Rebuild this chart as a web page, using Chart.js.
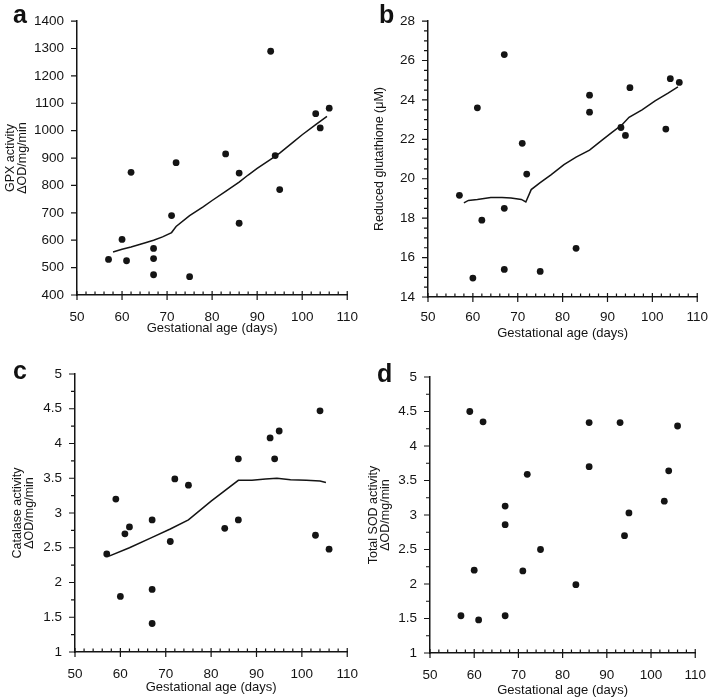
<!DOCTYPE html>
<html lang="en">
<head>
  <meta charset="UTF-8">
  <title>Antioxidant activity vs gestational age</title>
  <script src="https://cdn.jsdelivr.net/npm/chart.js"></script>
  <style>
    body, html {
      margin: 0;
      padding: 0;
      background: #fff;
      width: 720px;
      height: 700px;
      overflow: hidden;
    }
    .panel {
      position: absolute;
    }
    .letter {
      position: absolute;
      font-family: "Liberation Sans", Arial, sans-serif;
      font-weight: bold;
      font-size: 25px;
      line-height: 25px;
      color: #111;
    }
  </style>
</head>
<body>
  <div class="panel" style="left:0;top:0"><canvas id="chartA" width="372" height="345"></canvas></div>
  <div class="panel" style="left:360px;top:0"><canvas id="chartB" width="360" height="345"></canvas></div>
  <div class="panel" style="left:0;top:340px"><canvas id="chartC" width="372" height="360"></canvas></div>
  <div class="panel" style="left:360px;top:340px"><canvas id="chartD" width="360" height="360"></canvas></div>
  <div class="letter" style="left:13px;top:2px">a</div>
  <div class="letter" style="left:379px;top:2px">b</div>
  <div class="letter" style="left:13px;top:358px">c</div>
  <div class="letter" style="left:377px;top:361px">d</div>

  <script>
    // x axis (gestational age, days)
    const xTicks = [50, 60, 70, 80, 90, 100, 110];

    // a: GPX activity
    const ageA = [57, 60, 61, 62, 67, 67, 67, 71, 72, 75, 83, 86, 86, 93, 94, 95, 103, 104, 106];
    const gpx = [530, 603, 525, 848, 570, 533, 474, 690, 883, 467, 915, 845, 662, 1290, 909, 785, 1062, 1010, 1082];
    const gpxFitAge = [58, 60, 62, 65, 67, 69, 71, 72, 75, 78, 80, 83, 86, 88, 90, 93, 95, 98, 100, 103, 105.5];
    const gpxFit = [557, 567, 575, 590, 600, 612, 628, 650, 690, 722, 745, 778, 812, 838, 862, 895, 918, 958, 985, 1022, 1052];
    const yTicksA = [400, 500, 600, 700, 800, 900, 1000, 1100, 1200, 1300, 1400];

    // b: reduced glutathione
    const ageB = [57, 60, 61, 62, 67, 67, 67, 71, 72, 75, 83, 86, 86, 93, 94, 95, 103, 104, 106];
    const gsh = [19.16, 14.96, 23.6, 17.9, 26.3, 18.5, 15.4, 21.8, 20.24, 15.3, 16.47, 24.24, 23.38, 22.6, 22.2, 24.62, 22.52, 25.08, 24.89];
    const gshFitAge = [58, 59, 61, 64, 66.5, 68.5, 70.8, 71.8, 73, 75, 77.4, 80.3, 83, 86, 89, 91, 93.3, 94.8, 97.7, 100.6, 103.5, 105.7];
    const gshFit = [18.78, 18.9, 18.95, 19.05, 19.05, 19.02, 18.95, 18.82, 19.45, 19.8, 20.2, 20.72, 21.1, 21.45, 22.0, 22.35, 22.75, 23.12, 23.5, 23.95, 24.34, 24.66];
    const yTicksB = [14, 16, 18, 20, 22, 24, 26, 28];

    // c: catalase activity
    const ageC = [57, 59, 60, 61, 62, 67, 67, 67, 71, 72, 75, 83, 86, 86, 93, 94, 95, 103, 104, 106];
    const catalase = [2.41, 3.2, 1.8, 2.7, 2.8, 2.9, 1.9, 1.41, 2.59, 3.49, 3.4, 2.78, 3.78, 2.9, 4.08, 3.78, 4.18, 2.68, 4.47, 2.48];
    const catFitAge = [57.5, 62, 67, 71, 75, 80, 86, 89, 92, 94.5, 97.5, 101, 104, 105.3];
    const catFit = [2.38, 2.5, 2.65, 2.77, 2.9, 3.17, 3.47, 3.47, 3.49, 3.5, 3.48, 3.47, 3.46, 3.44];
    const yTicksCD = [1, 1.5, 2, 2.5, 3, 3.5, 4, 4.5, 5];

    // d: total SOD activity
    const ageD = [57, 59, 60, 61, 62, 67, 67, 67, 71, 72, 75, 83, 86, 86, 93, 94, 95, 103, 104, 106];
    const sod = [1.54, 4.5, 2.2, 1.48, 4.35, 3.13, 2.86, 1.54, 2.19, 3.59, 2.5, 1.99, 4.34, 3.7, 4.34, 2.7, 3.03, 3.2, 3.64, 4.29];

    const FONT = '"Liberation Sans", Arial, sans-serif';
    const INK = '#141414';

    const pairs = (xs, ys) => xs.map((x, i) => ({x: x, y: ys[i]}));

    // draws major + minor tick marks along both axes
    const tickMarks = {
      id: 'tickMarks',
      afterDraw(chart, args, opts) {
        const {ctx, scales: {x, y}} = chart;
        ctx.save();
        ctx.strokeStyle = INK;
        ctx.lineWidth = 1.2;
        ctx.beginPath();
        for (let v = x.min; v <= x.max + 1e-6; v += opts.xMinor) {
          const px = x.getPixelForValue(v);
          const major = Math.abs((v - x.min) % 10) < 1e-6;
          ctx.moveTo(px, y.bottom - (major ? 4 : 3.5));
          ctx.lineTo(px, y.bottom + (major ? 5 : 0));
        }
        opts.yMajor.forEach(v => {
          const py = y.getPixelForValue(v);
          ctx.moveTo(x.left - 6, py);
          ctx.lineTo(x.left, py);
        });
        if (opts.yMinor) {
          for (let v = y.min; v <= y.max + 1e-6; v += opts.yMinor) {
            const py = y.getPixelForValue(v);
            ctx.moveTo(x.left - 4, py);
            ctx.lineTo(x.left, py);
          }
        }
        ctx.stroke();
        ctx.restore();
      }
    };

    function makePanel(id, p) {
      const canvas = document.getElementById(id);
      const W = canvas.width, H = canvas.height;
      const xH = H - p.area.b;
      const datasets = [{
        type: 'scatter',
        data: pairs(p.xs, p.ys),
        pointRadius: 3.4,
        pointBackgroundColor: INK,
        pointBorderColor: INK,
        pointBorderWidth: 0
      }];
      if (p.fitX) {
        datasets.push({
          type: 'line',
          data: pairs(p.fitX, p.fitY),
          borderColor: INK,
          borderWidth: 1.5,
          pointRadius: 0,
          tension: 0,
          fill: false
        });
      }
      return new Chart(canvas.getContext('2d'), {
        type: 'scatter',
        data: {datasets: datasets},
        options: {
          responsive: false,
          animation: false,
          events: [],
          layout: {padding: {left: 0, top: p.area.t, right: W - p.area.r, bottom: 0}},
          plugins: {
            legend: {display: false},
            tooltip: {enabled: false},
            tickMarks: {xMinor: 2, yMajor: p.yTicks, yMinor: p.yMinor}
          },
          scales: {
            x: {
              type: 'linear',
              min: 50,
              max: 110,
              afterBuildTicks: s => { s.ticks = xTicks.map(v => ({value: v})); },
              afterFit: s => { s.height = xH; },
              grid: {display: false, drawTicks: false},
              border: {display: true, color: INK, width: 1.5},
              ticks: {
                color: INK,
                padding: p.xTickOff - 6,
                maxRotation: 0,
                font: {family: FONT, size: 13.5},
                callback: v => String(v)
              },
              title: {
                display: true,
                text: 'Gestational age (days)',
                color: INK,
                font: {family: FONT, size: 13},
                padding: {top: 0, bottom: xH - 7.8 - p.xTitleOff}
              }
            },
            y: {
              type: 'linear',
              min: p.yTicks[0],
              max: p.yTicks[p.yTicks.length - 1],
              afterBuildTicks: s => { s.ticks = p.yTicks.map(v => ({value: v})); },
              afterFit: s => { s.width = p.area.l; },
              grid: {display: false, drawTicks: false},
              border: {display: true, color: INK, width: 1.5},
              ticks: {
                color: INK,
                padding: 13,
                font: {family: FONT, size: 13.5},
                callback: v => String(v)
              },
              title: {
                display: true,
                text: p.yTitle,
                color: INK,
                font: {family: FONT, size: 12.5, lineHeight: '12px'},
                padding: {top: p.yTitleX - 6, bottom: 0}
              }
            }
          }
        },
        plugins: [tickMarks]
      });
    }

    makePanel('chartA', {
      xs: ageA, ys: gpx, fitX: gpxFitAge, fitY: gpxFit,
      yTicks: yTicksA, yMinor: null,
      area: {l: 77, t: 19, r: 353, b: 295},
      xTickOff: 20, xTitleOff: 33, yTitleX: 11,
      yTitle: ['GPX activity', '\u0394OD/mg/min']
    });

    makePanel('chartB', {
      xs: ageB, ys: gsh, fitX: gshFitAge, fitY: gshFit,
      yTicks: yTicksB, yMinor: 0.5,
      area: {l: 68, t: 20, r: 343, b: 297},
      xTickOff: 18, xTitleOff: 36, yTitleX: 20,
      yTitle: 'Reduced glutathione (\u03bcM)'
    });

    makePanel('chartC', {
      xs: ageC, ys: catalase, fitX: catFitAge, fitY: catFit,
      yTicks: yTicksCD, yMinor: 0.25,
      area: {l: 75, t: 34, r: 352, b: 312},
      xTickOff: 20, xTitleOff: 35, yTitleX: 18,
      yTitle: ['Catalase activity', '\u0394OD/mg/min']
    });

    makePanel('chartD', {
      xs: ageD, ys: sod, fitX: null, fitY: null,
      yTicks: yTicksCD, yMinor: 0.25,
      area: {l: 70, t: 37, r: 347, b: 313},
      xTickOff: 20, xTitleOff: 37, yTitleX: 14,
      yTitle: ['Total SOD activity', '\u0394OD/mg/min']
    });
  </script>
</body>
</html>
